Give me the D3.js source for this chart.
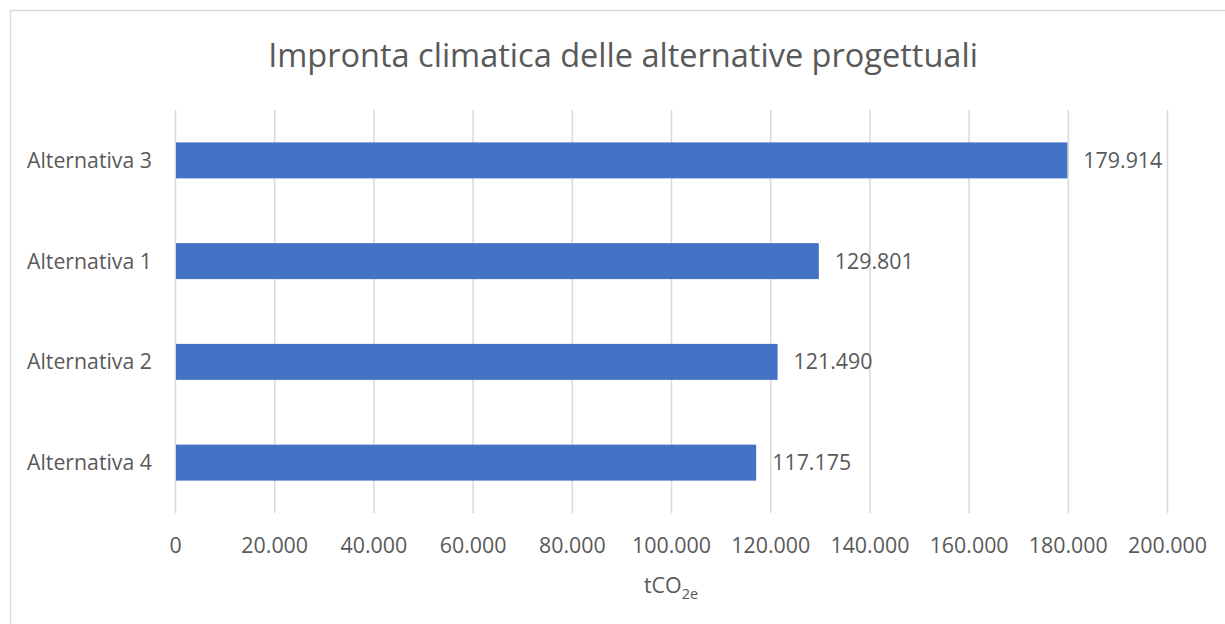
<!DOCTYPE html>
<html>
<head>
<meta charset="utf-8">
<script src="https://cdn.jsdelivr.net/npm/d3@7"></script>
<style>
  html, body { margin: 0; padding: 0; background: #fff; }
  svg { display: block; }
  text { font-family: "Open Sans", "Noto Sans", sans-serif; fill: #595959; }
</style>
</head>
<body>
<svg id="chart" width="1225" height="624"></svg>
<script>
// Data
const categories = ["Alternativa 3", "Alternativa 1", "Alternativa 2", "Alternativa 4"];
const values = [179914, 129801, 121490, 117175];
const tickValues = [0, 20000, 40000, 60000, 80000, 100000, 120000, 140000, 160000, 180000, 200000];
const titleText = "Impronta climatica delle alternative progettuali";

const svg = d3.select("#chart");
const W = 1225, H = 624;

// Italian number format: dot as thousands separator
const it = d3.formatLocale({ decimal: ",", thousands: ".", grouping: [3], currency: ["€", ""] });
const fmt = it.format(",d");

// Chart frame
svg.append("rect")
  .attr("x", 10.5).attr("y", 10.5)
  .attr("width", W + 20).attr("height", H + 20)
  .attr("fill", "#fff").attr("stroke", "#d9d9d9").attr("stroke-width", 1.5);

const plot = { left: 175, right: 1167, top: 110, bottom: 513 };

const x = d3.scaleLinear().domain([0, 200000]).range([plot.left, plot.right]);
const y = d3.scaleBand().domain(categories).range([plot.top, plot.bottom]).paddingInner(0.643).paddingOuter(0.3215);

// Size a text element so its rendered width equals a target
function fitWidth(sel, target) {
  sel.style("font-size", "100px");
  const w = sel.node().getComputedTextLength();
  sel.style("font-size", (100 * target / w) + "px");
}

// Title
const title = svg.append("text")
  .attr("x", (268 + 978) / 2).attr("y", 67)
  .attr("text-anchor", "middle")
  .text(titleText);
fitWidth(title, 710);

// Vertical gridlines
svg.append("g").selectAll("line")
  .data(tickValues)
  .join("line")
  .attr("x1", d => x(d) + 0.5).attr("x2", d => x(d) + 0.5)
  .attr("y1", plot.top).attr("y2", plot.bottom)
  .attr("stroke", "#d9d9d9").attr("stroke-width", 1.5);

// X axis tick labels
const xAxis = d3.axisBottom(x).tickValues(tickValues).tickFormat(d => d === 0 ? "0" : fmt(d)).tickSize(0).tickPadding(0);
const gx = svg.append("g").attr("transform", `translate(0,${plot.bottom})`).call(xAxis);
gx.select(".domain").remove();
gx.selectAll("text").attr("y", 33).attr("dy", "0.35em").style("fill", "#595959");
const tickFont = (() => {
  const t = gx.selectAll("text").filter(d => d === 200000);
  fitWidth(t, 79);
  return t.style("font-size");
})();
gx.selectAll("text").style("font-size", tickFont).style("font-family", '"Open Sans", "Noto Sans", sans-serif');

// Y axis category labels
const yAxis = d3.axisLeft(y).tickSize(0).tickPadding(0);
const gy = svg.append("g").attr("transform", `translate(152,0)`).call(yAxis);
gy.select(".domain").remove();
gy.selectAll("text").attr("dy", "0.35em").style("fill", "#595959").style("font-family", '"Open Sans", "Noto Sans", sans-serif');
const catFont = (() => {
  const t = gy.selectAll("text").filter(d => d === "Alternativa 3");
  fitWidth(t, 125);
  return t.style("font-size");
})();
gy.selectAll("text").style("font-size", catFont);

// Bars
svg.append("g").selectAll("rect")
  .data(categories)
  .join("rect")
  .attr("x", x(0) + 1)
  .attr("y", d => y(d))
  .attr("width", (d, i) => x(values[i]) - x(0) - 1)
  .attr("height", y.bandwidth())
  .attr("fill", "#4472c4");

// Value labels
svg.append("g").selectAll("text")
  .data(categories)
  .join("text")
  .attr("x", (d, i) => x(values[i]) + 16)
  .attr("y", d => y(d) + y.bandwidth() / 2)
  .attr("dy", "0.35em")
  .style("font-size", tickFont)
  .text((d, i) => fmt(values[i]));

// Axis title with subscript
const at = svg.append("text")
  .attr("x", (plot.left + plot.right) / 2).attr("y", 593)
  .attr("text-anchor", "middle")
  .style("font-size", tickFont);
at.append("tspan").text("tCO");
at.append("tspan").attr("dy", 6).style("font-size", (parseFloat(tickFont) * 0.68) + "px").text("2e");
</script>
</body>
</html>
